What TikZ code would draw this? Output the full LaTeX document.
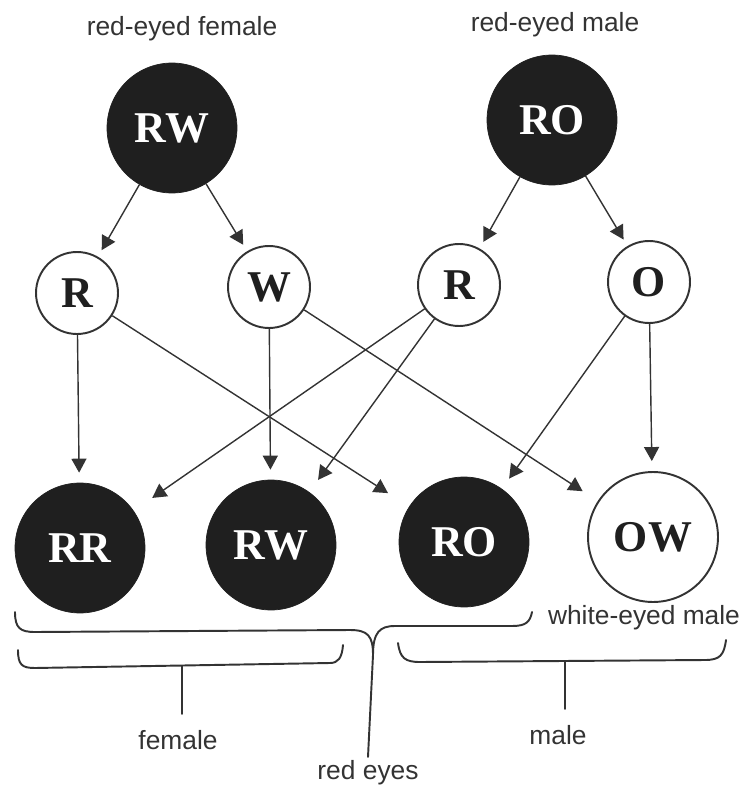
\documentclass[tikz,border=0pt]{standalone}
\usepackage{fontspec}
\setmainfont{Liberation Serif}
\setsansfont{Liberation Sans}
\usetikzlibrary{arrows.meta,positioning}

\begin{document}
\begin{tikzpicture}[x=0.02cm,y=-0.02cm,>={Triangle[length=0.28cm,width=0.3cm]}]
  \tikzstyle{fly}=[circle,fill=black!88,draw=black!88,text=white,minimum size=2.6cm,inner sep=0pt,font=\fontsize{25}{28}\selectfont\bfseries]
  \tikzstyle{gamete}=[circle,draw=black!80,line width=1.1pt,fill=white,text=black!88,minimum size=1.64cm,inner sep=0pt,font=\fontsize{25}{28}\selectfont\bfseries]
  \tikzstyle{lab}=[font=\sffamily\fontsize{15}{17}\selectfont,text=black!80,inner sep=2pt]
  \tikzstyle{arr}=[->,draw=black!80,line width=0.8pt,shorten >=0.15cm]
  \tikzstyle{brace}=[draw=black!80,line width=1.1pt,line cap=round]
  \useasboundingbox (0,0) rectangle (750,790);
  % parents
  \node[fly] (momRW) at (172,128) {RW};
  \node[fly] (dadRO) at (552,120) {RO};
  \node[lab] (momlab) at (182,29) {red-eyed female};
  \node[lab] (dadlab) at (555,25) {red-eyed male};
  % gametes
  \node[gamete] (gR1) at (77,293) {R};
  \node[gamete] (gW) at (269,287) {W};
  \node[gamete] (gR2) at (459,285) {R};
  \node[gamete] (gO) at (649,282) {O};
  % offspring
  \node[fly] (kidRR) at (80,548) {RR};
  \node[fly] (kidRW) at (271,545) {RW};
  \node[fly] (kidRO) at (464,542) {RO};
  \node[gamete,minimum size=2.6cm] (kidOW) at (653,537) {OW};
  \node[lab] (whitelab) at (644,618) {white-eyed male};
  \draw[arr] (momRW) -- (gR1);
  \draw[arr] (momRW) -- (gW);
  \draw[arr] (dadRO) -- (gR2);
  \draw[arr] (dadRO) -- (gO);
  \draw[arr,shorten >=0.2cm] (gR1) -- (kidRR);
  \draw[arr,shorten >=0.5cm] (gR1) -- (kidRO);
  \draw[arr,shorten >=0.2cm] (gW) -- (kidRW);
  \draw[arr,shorten >=0.36cm] (gW) -- (kidOW);
  \draw[arr,shorten >=0.45cm] (gR2) -- (kidRR);
  \draw[arr,shorten >=0.3cm] (gR2) -- (kidRW);
  \draw[arr,shorten >=0.25cm] (gO) -- (kidRO);
  \draw[arr,shorten >=0.2cm] (gO) -- (kidOW);
  % braces
  \draw[brace] (15,612) .. controls (15,628) and (20,632) .. (35,632) -- (350,630)
    .. controls (368,630) and (373,636) .. (373,655);
  \draw[brace] (373,655) .. controls (373,632) and (380,626) .. (395,626) -- (512,626)
    .. controls (526,626) and (530,622) .. (532,612);
  \draw[brace] (18,650) .. controls (18,665) and (22,668) .. (35,668) -- (330,663)
    .. controls (338,663) and (342,658) .. (343,645);
  \draw[brace] (398,643) .. controls (400,658) and (405,662) .. (420,662) -- (705,660)
    .. controls (720,660) and (724,655) .. (726,640);
  \coordinate (redtip) at (373,655);
  \coordinate (femtip) at (182,666);
  \coordinate (maletip) at (565,661);
  \node[lab] (femlab) at (178,740) {female};
  \node[lab] (malelab) at (558,735) {male};
  \node[lab] (redlab) at (368,773) {red eyes};
  \draw[brace] (redtip) -- (redlab.north);
  \draw[brace,shorten >=0.25cm] (femtip) -- (femlab.north -| femtip);
  \draw[brace,shorten >=0.25cm] (maletip) -- (malelab.north -| maletip);
\end{tikzpicture}
\end{document}
